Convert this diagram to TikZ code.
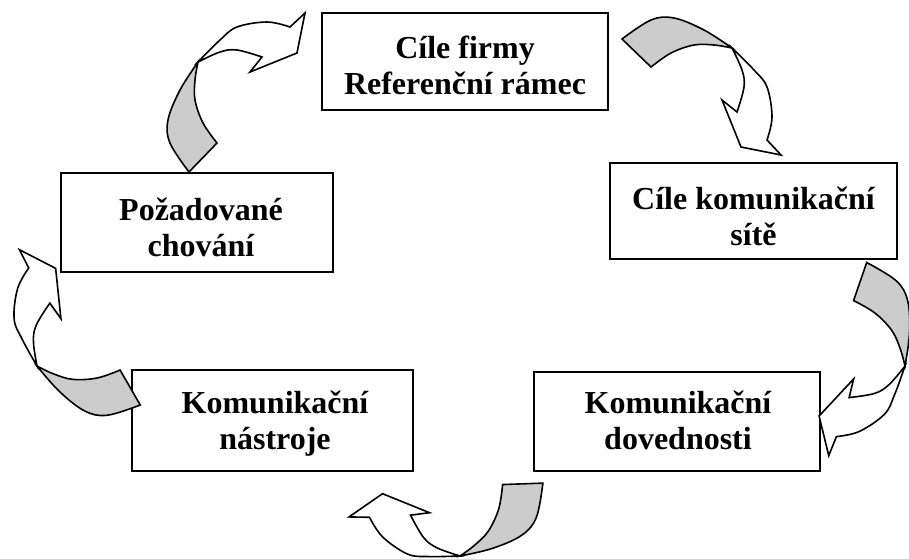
\documentclass[tikz,border=0pt]{standalone}
\usepackage{fontspec}
\setmainfont{Liberation Serif}
\definecolor{backside}{RGB}{204,204,204}
\tikzset{
  stage/.style={draw, line width=2pt, inner sep=0pt, fill=white},
  stagetext/.style={align=center, inner sep=0pt,
    font=\fontsize{32}{36}\selectfont\bfseries},
  ribbon/.style={line width=1.6pt, line join=miter},
  % twisted ribbon arrow: shaded back half, then white front half with head
  pics/turn/.style={code={
    \filldraw[ribbon, fill=backside]
      plot[smooth, tension=0.6] coordinates {(0,0) (-18,28) (-30,58) (-28,81) (-9,110)}
      -- plot[smooth, tension=0.6] coordinates {(19,81) (5,61) (-3,38) (-3,18) (0,0)}
      -- cycle;
    \filldraw[ribbon, fill=white]
      plot[smooth, tension=0.6] coordinates {(0,0) (22,-22) (39,-35) (69,-40) (92,-35)}
      -- (107,-49) -- (99,-9) -- (52,10)
      -- plot[smooth, tension=0.6] coordinates {(64,-5) (39,-12) (22,-10) (0,0)}
      -- cycle;
  }}
}
\begin{document}
\begin{tikzpicture}[x=1pt, y=-1pt]
  \useasboundingbox (0,0) rectangle (909,558);

  % boxes
  \node[stage, minimum width=286pt, minimum height=97pt]  (goals)    at (465,61.4)  {};
  \node[stage, minimum width=287pt, minimum height=96pt]  (netgoals) at (753.5,211.3) {};
  \node[stage, minimum width=286pt, minimum height=99pt]  (skills)   at (677,421.3) {};
  \node[stage, minimum width=281pt, minimum height=101pt] (tools)    at (272.2,420.5) {};
  \node[stage, minimum width=272pt, minimum height=99pt]  (behav)    at (197,222.7) {};

  % labels
  \node[stagetext] (goals-t)    at (465,69.3)   {\strut Cíle firmy\\\strut Referenční rámec};
  \node[stagetext] (netgoals-t) at (753.5,219.8) {\strut Cíle komunikační\\\strut sítě};
  \node[stagetext] (skills-t)   at (678,423.8)  {\strut Komunikační\\\strut dovednosti};
  \node[stagetext] (tools-t)    at (275,423.8)  {\strut Komunikační\\\strut nástroje};
  \node[stagetext] (behav-t)    at (201,230.8)  {\strut Požadované\\\strut chování};

  % fold points of the curved arrows
  \coordinate (foldA) at (198,62);
  \coordinate (foldB) at (732,48);
  \coordinate (foldC) at (905,366);
  \coordinate (foldD) at (460,556);
  \coordinate (foldE) at (37,366);

  \pic at (foldA) {turn};
  \pic[rotate=-90]  at (foldB) {turn};
  \pic[rotate=-155] at (foldC) {turn};
  \pic[rotate=-224] at (foldD) {turn};
  \pic[rotate=-286] at (foldE) {turn};
\end{tikzpicture}
\end{document}
